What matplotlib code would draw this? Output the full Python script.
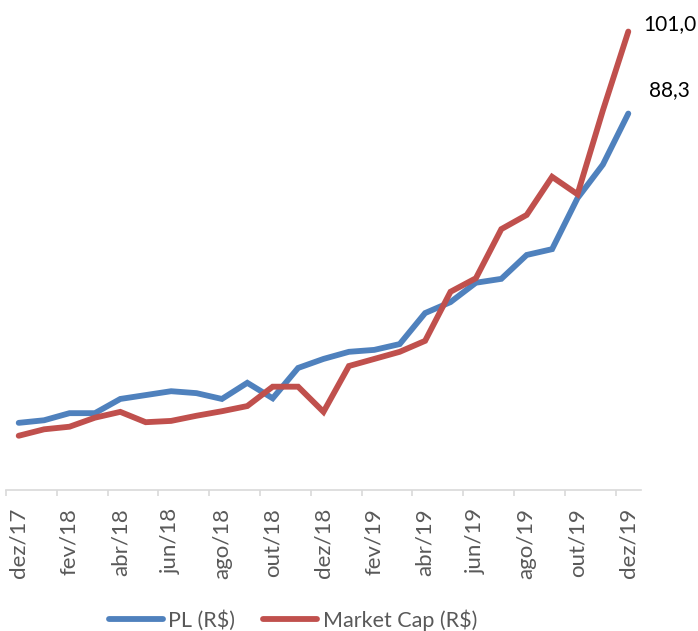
import matplotlib
matplotlib.use("Agg")
import matplotlib.pyplot as plt
from matplotlib.lines import Line2D

months = ["dez/17", "jan/18", "fev/18", "mar/18", "abr/18", "mai/18", "jun/18",
          "jul/18", "ago/18", "set/18", "out/18", "nov/18", "dez/18", "jan/19",
          "fev/19", "mar/19", "abr/19", "mai/19", "jun/19", "jul/19", "ago/19",
          "set/19", "out/19", "nov/19", "dez/19"]
pl = [40.4, 40.8, 41.9, 41.9, 44.1, 44.7, 45.3, 45.0, 44.1, 46.6, 44.2, 48.9, 50.3,
      51.4, 51.7, 52.6, 57.4, 59.1, 62.1, 62.7, 66.4, 67.3, 75.2, 80.4, 88.3]
market_cap = [38.4, 39.4, 39.8, 41.2, 42.1, 40.5, 40.7, 41.5, 42.2, 43.0, 46.0, 46.0, 42.1,
              49.2, 50.3, 51.4, 53.1, 60.7, 62.8, 70.4, 72.6, 78.5, 75.8, 88.8, 101.0]
series_names = ["PL (R$)", "Market Cap (R$)"]
end_labels = ["88,3", "101,0"]

BLUE = "#4F81BD"
RED = "#C0504D"
GREY_TXT = "#595959"
AXIS_GREY = "#D9D9D9"

plt.rcParams['font.family'] = ['Lato', 'DejaVu Sans']

W, H = 698, 631
fig = plt.figure(figsize=(W / 100, H / 100), dpi=100)
ax = fig.add_axes([6 / W, (H - 490) / H, 635 / W, 490 / H])

x = list(range(len(months)))
ax.plot(x, pl, color=BLUE, lw=4.2, solid_joinstyle='miter', solid_capstyle='round', zorder=3)
ax.plot(x, market_cap, color=RED, lw=4.2, solid_joinstyle='miter', solid_capstyle='round', zorder=3)

ax.set_xlim(-0.5, len(months) - 0.5)
ax.set_ylim(30, 30 + 490 / 6.457)

for s in ["top", "right", "left"]:
    ax.spines[s].set_visible(False)
ax.spines["bottom"].set_color(AXIS_GREY)
ax.spines["bottom"].set_linewidth(1.2)
ax.set_yticks([])

ax.set_xticks(x[::2])
ax.set_xticklabels(months[::2], rotation=90, color=GREY_TXT, fontsize=16)
ax.set_xticks([-0.5 + 2 * k for k in range(13)], minor=True)
ax.tick_params(axis='x', which='major', length=0, pad=13)
ax.tick_params(axis='x', which='minor', length=4.5, width=1.2, color=AXIS_GREY, direction='out')

ax.annotate(end_labels[1], (x[-1], market_cap[-1]), xytext=(15, 7), textcoords='offset pixels',
            ha='left', va='center', fontsize=15, color='black', annotation_clip=False)
ax.annotate(end_labels[0], (x[-1], pl[-1]), xytext=(21, 23), textcoords='offset pixels',
            ha='left', va='center', fontsize=15, color='black', annotation_clip=False)

handles = [Line2D([], [], color=BLUE, lw=4.2, solid_capstyle='round'),
           Line2D([], [], color=RED, lw=4.2, solid_capstyle='round')]
fig.legend(handles, series_names, loc='center', bbox_to_anchor=(293 / W, 1 - 620 / H),
           ncol=2, frameon=False, fontsize=15.5, labelcolor=GREY_TXT,
           handlelength=2.5, handletextpad=0.25, columnspacing=1.3)

fig.savefig("out.png", dpi=100)
